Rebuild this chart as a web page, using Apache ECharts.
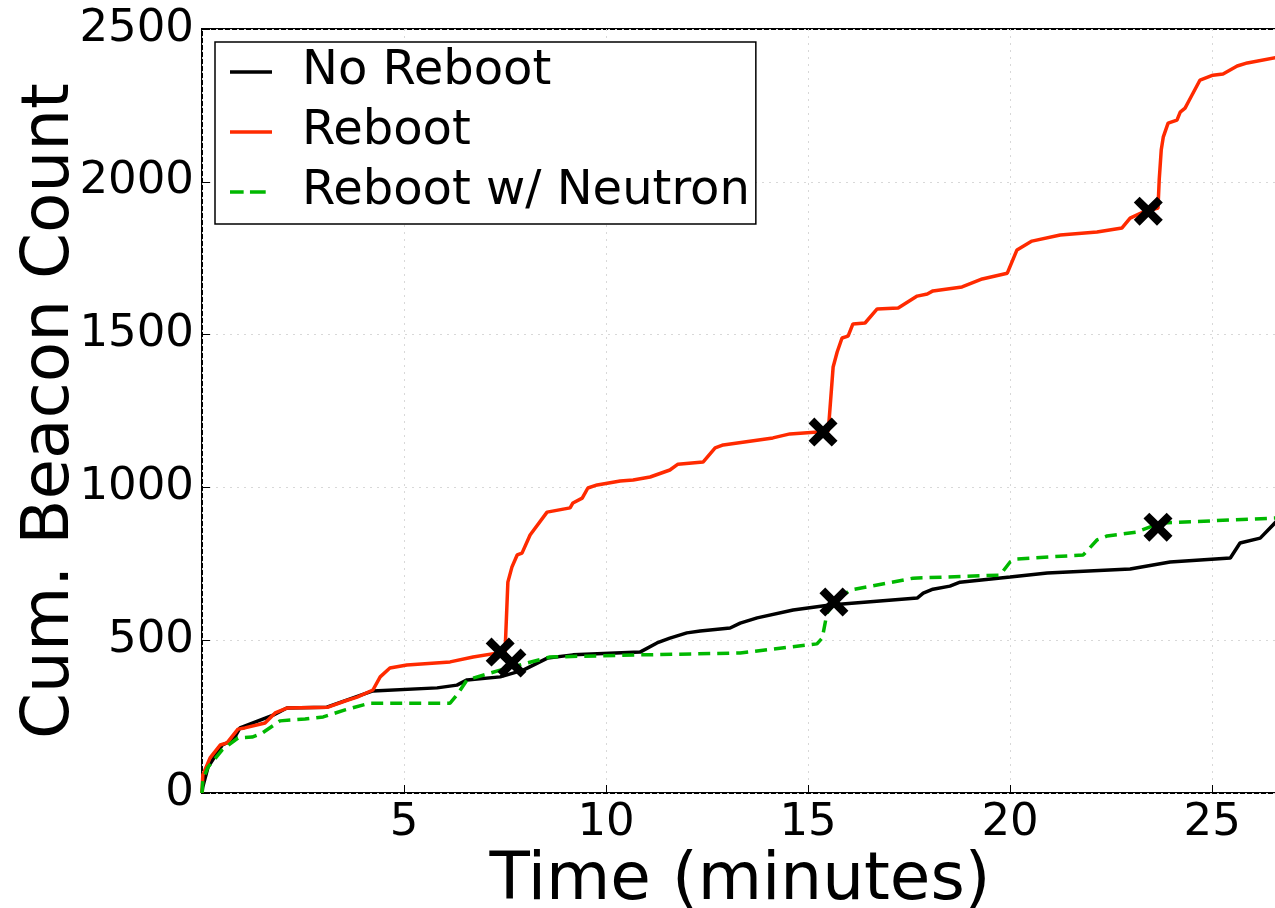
<!DOCTYPE html>
<html>
<head>
<meta charset="utf-8">
<script src="https://cdn.jsdelivr.net/npm/echarts@6/dist/echarts.min.js"></script>
<style>
  html, body { margin: 0; padding: 0; background: #fff; }
  #main { width: 1275px; height: 908px; }
</style>
</head>
<body>
<div id="main"></div>
<script>
// [minutes, cumulative count]
let noReboot = [
    [0, 0], [0.02, 20], [0.15, 85], [0.5, 157], [0.77, 173], [0.94, 213], [1.76, 255], [2.1, 278],
    [3.09, 281], [4.23, 334], [5.82, 344], [6.31, 353], [6.56, 370], [7.38, 380], [7.95, 402],
    [8.56, 442], [9.18, 452], [10.84, 461], [11.26, 491], [11.58, 507], [12.0, 524], [12.33, 530],
    [13.07, 540], [13.32, 556], [13.74, 573], [14.63, 599], [15.54, 615], [17.7, 638], [17.85, 654],
    [18.09, 667], [18.51, 677], [18.76, 690], [20.0, 707], [20.92, 720], [22.97, 733], [23.96, 756],
    [25.45, 769], [25.69, 818], [26.19, 834], [26.6, 890]
];
let reboot = [
    [0, 0], [0.02, 59], [0.2, 115], [0.45, 157], [0.62, 164], [0.89, 209], [1.06, 213], [1.56, 229],
    [1.81, 262], [2.1, 278], [3.12, 281], [3.54, 301], [3.84, 314], [4.23, 337], [4.41, 380],
    [4.65, 409], [5.07, 419], [6.14, 429], [6.71, 445], [7.45, 461], [7.5, 461], [7.57, 690],
    [7.67, 739], [7.8, 779], [7.92, 785], [8.12, 844], [8.54, 919], [9.11, 933], [9.18, 949],
    [9.41, 965], [9.55, 998], [9.78, 1008], [10.35, 1021], [10.67, 1024], [11.09, 1034],
    [11.58, 1057], [11.78, 1076], [12.4, 1083], [12.7, 1129], [12.9, 1139], [14.13, 1162],
    [14.55, 1175], [15.5, 1184], [15.54, 1188], [15.62, 1394], [15.72, 1443], [15.84, 1489],
    [15.99, 1495], [16.11, 1535], [16.41, 1538], [16.71, 1584], [17.23, 1587], [17.7, 1626],
    [17.95, 1633], [18.09, 1643], [18.81, 1656], [19.31, 1682], [19.93, 1701], [20.17, 1777],
    [20.54, 1806], [21.24, 1826], [22.15, 1836], [22.77, 1849], [22.97, 1881], [23.29, 1901],
    [23.66, 1914], [23.69, 2006], [23.74, 2104], [23.79, 2146], [23.91, 2192], [24.13, 2202],
    [24.21, 2228], [24.33, 2241], [24.41, 2261], [24.7, 2333], [25.02, 2349], [25.27, 2353],
    [25.62, 2379], [25.87, 2389], [26.6, 2407]
];
let rebootNeutron = [
    [0, 0], [0.02, 43], [0.15, 85], [0.5, 141], [0.89, 180], [1.24, 183], [1.49, 196], [1.93, 236],
    [2.55, 242], [3.0, 249], [3.54, 272], [4.16, 294], [6.14, 294], [6.31, 321], [6.56, 370],
    [7.38, 402], [8.61, 445], [10.84, 452], [13.32, 458], [15.22, 488], [15.35, 507], [15.47, 589],
    [15.72, 632], [16.04, 664], [17.6, 703], [19.75, 713], [20.0, 756], [20.17, 766], [21.81, 779],
    [22.15, 828], [22.4, 841], [23.14, 854], [23.71, 883], [26.6, 900]
];
// reboot moments (black x)
let rebootMarks = [[7.38, 461], [15.37, 1181], [23.42, 1904]];
let neutronMarks = [[7.67, 425], [15.64, 625], [23.66, 870]];

let xTicks = [5, 10, 15, 20, 25];

let font = 'DejaVu Sans';
let xPath = 'path://M0,2L2,0L5,3L8,0L10,2L7,5L10,8L8,10L5,7L2,10L0,8L3,5Z';
let solidIcon = 'path://M0,0H42V3.5H0Z';
let dashIcon = 'path://M2,0H15V3.5H2ZM21,0H36V3.5H21ZM42,1.7L42,1.8L41.9,1.8Z';

let myChart = echarts.init(document.getElementById('main'));
let option = {
    backgroundColor: '#fff',
    animation: false,
    textStyle: { fontFamily: font },
    grid: {
        left: 202,
        right: -3,
        top: 29,
        bottom: 115,
        containLabel: false,
        outerBoundsMode: 'none',
        show: true,
        borderColor: '#000',
        borderWidth: 2
    },
    legend: {
        data: [
            { name: 'No Reboot', icon: solidIcon },
            { name: 'Reboot', icon: solidIcon },
            { name: 'Reboot w/ Neutron', icon: dashIcon }
        ],
        orient: 'vertical',
        left: 215,
        top: 42,
        padding: [6, 6, 8, 15],
        itemGap: 12,
        itemWidth: 42,
        itemHeight: 4,
        backgroundColor: '#fff',
        borderColor: '#000',
        borderWidth: 1.5,
        textStyle: {
            fontFamily: font,
            fontSize: 48,
            color: '#000',
            padding: [0, 0, 0, 25]
        }
    },
    xAxis: {
        type: 'value',
        min: 0,
        max: 26.63,
        interval: 5,
        name: 'Time (minutes)',
        nameLocation: 'middle',
        nameGap: 56,
        nameMoveOverlap: false,
        nameTextStyle: { fontFamily: font, fontSize: 66, color: '#000' },
        axisLine: { show: false },
        axisTick: { show: true, inside: true, length: 8, lineStyle: { color: '#000', width: 1 } },
        axisLabel: {
            fontFamily: font,
            fontSize: 45,
            color: '#000',
            margin: 8,
            showMaxLabel: false,
            formatter: function (v) { return xTicks.indexOf(v) >= 0 ? String(v) : ''; }
        },
        splitLine: { show: true, lineStyle: { color: '#d8d8d8', type: [2, 5], width: 1 } }
    },
    yAxis: {
        type: 'value',
        min: 0,
        max: 2500,
        interval: 500,
        name: 'Cum. Beacon Count',
        nameLocation: 'middle',
        nameGap: 118,
        nameMoveOverlap: false,
        nameTextStyle: { fontFamily: font, fontSize: 66, color: '#000' },
        axisLine: { show: false },
        axisTick: { show: true, inside: true, length: 8, lineStyle: { color: '#000', width: 1 } },
        axisLabel: {
            fontFamily: font, fontSize: 45, color: '#000', margin: 8,
            formatter: function (v) { return String(v); }
        },
        splitLine: { show: true, lineStyle: { color: '#d8d8d8', type: [2, 5], width: 1 } }
    },
    series: [
        {
            name: 'No Reboot',
            type: 'line',
            symbol: 'none',
            color: '#000',
            lineStyle: { color: '#000', width: 3.5 },
            data: noReboot
        },
        {
            name: 'Reboot',
            type: 'line',
            symbol: 'none',
            color: '#ff2a00',
            lineStyle: { color: '#ff2a00', width: 3.5 },
            data: reboot
        },
        {
            name: 'Reboot w/ Neutron',
            type: 'line',
            symbol: 'none',
            color: '#00b800',
            lineStyle: { color: '#00b800', width: 3.5, type: [12, 7] },
            data: rebootNeutron
        },
        {
            name: 'reboot marks',
            type: 'scatter',
            symbol: xPath,
            symbolSize: 29,
            itemStyle: { color: '#000', opacity: 1 },
            z: 5,
            data: rebootMarks.concat(neutronMarks)
        }
    ]
};
myChart.setOption(option, true);
</script>
</body>
</html>
